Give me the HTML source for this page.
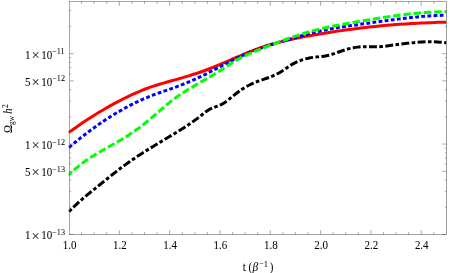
<!DOCTYPE html>
<html><head><meta charset="utf-8"><title>plot</title>
<style>
html,body{margin:0;padding:0;background:#fff;}
body{width:450px;height:273px;overflow:hidden;}
svg{display:block;will-change:transform;}
text{font-family:"Liberation Serif",serif;fill:#000;stroke:#000;stroke-width:0.03px;}
</style></head><body>
<svg width="450" height="273" viewBox="0 0 450 273">
<rect width="450" height="273" fill="#fff"/>
<defs><clipPath id="c"><rect x="68.50" y="1.50" width="378.00" height="233.00"/></clipPath></defs>
<g clip-path="url(#c)" fill="none" stroke-width="3" stroke-linejoin="round">
<path d="M68.50 132.64C69.67 131.82 73.33 129.21 75.50 127.70C77.67 126.19 79.50 124.93 81.50 123.58C83.50 122.23 85.50 120.91 87.50 119.60C89.50 118.30 91.50 117.01 93.50 115.76C95.50 114.50 97.50 113.26 99.50 112.05C101.50 110.84 103.50 109.65 105.50 108.49C107.50 107.33 109.50 106.20 111.50 105.09C113.50 103.98 115.50 102.89 117.50 101.83C119.50 100.78 121.50 99.75 123.50 98.74C125.50 97.74 127.50 96.77 129.50 95.82C131.50 94.88 133.50 93.97 135.50 93.09C137.50 92.21 139.50 91.36 141.50 90.55C143.50 89.74 145.50 88.96 147.50 88.23C149.50 87.49 151.50 86.80 153.50 86.13C155.50 85.47 157.50 84.84 159.50 84.23C161.50 83.62 163.50 83.05 165.50 82.47C167.50 81.90 169.50 81.34 171.50 80.78C173.50 80.22 175.50 79.68 177.50 79.11C179.50 78.55 181.50 78.00 183.50 77.42C185.50 76.84 187.50 76.26 189.50 75.65C191.50 75.04 193.50 74.42 195.50 73.76C197.50 73.11 199.50 72.43 201.50 71.72C203.50 71.01 205.50 70.26 207.50 69.50C209.50 68.73 211.50 67.94 213.50 67.13C215.50 66.32 217.50 65.49 219.50 64.65C221.50 63.81 223.50 62.95 225.50 62.09C227.50 61.23 229.50 60.36 231.50 59.49C233.50 58.63 235.50 57.76 237.50 56.90C239.50 56.05 241.50 55.19 243.50 54.36C245.50 53.53 247.50 52.70 249.50 51.91C251.50 51.11 253.50 50.33 255.50 49.58C257.50 48.84 259.50 48.12 261.50 47.44C263.50 46.75 265.50 46.10 267.50 45.48C269.50 44.86 271.50 44.27 273.50 43.71C275.50 43.14 277.50 42.61 279.50 42.09C281.50 41.58 283.50 41.09 285.50 40.62C287.50 40.15 289.50 39.70 291.50 39.27C293.50 38.84 295.50 38.42 297.50 38.02C299.50 37.62 301.50 37.23 303.50 36.85C305.50 36.47 307.50 36.11 309.50 35.74C311.50 35.38 313.50 35.03 315.50 34.68C317.50 34.34 319.50 34.00 321.50 33.67C323.50 33.33 325.50 33.01 327.50 32.69C329.50 32.37 331.50 32.06 333.50 31.75C335.50 31.45 337.50 31.15 339.50 30.86C341.50 30.57 343.50 30.29 345.50 30.01C347.50 29.74 349.50 29.47 351.50 29.21C353.50 28.94 355.50 28.69 357.50 28.44C359.50 28.20 361.50 27.96 363.50 27.72C365.50 27.49 367.50 27.27 369.50 27.05C371.50 26.83 373.50 26.62 375.50 26.42C377.50 26.21 379.50 26.02 381.50 25.83C383.50 25.64 385.50 25.46 387.50 25.28C389.50 25.11 391.50 24.94 393.50 24.78C395.50 24.62 397.50 24.47 399.50 24.32C401.50 24.17 403.50 24.03 405.50 23.90C407.50 23.77 409.50 23.64 411.50 23.52C413.50 23.41 415.50 23.29 417.50 23.19C419.50 23.08 421.50 22.99 423.50 22.89C425.50 22.80 427.50 22.72 429.50 22.64C431.50 22.56 433.50 22.49 435.50 22.43C437.50 22.36 439.67 22.30 441.50 22.26C443.33 22.21 445.67 22.16 446.50 22.14" stroke="#ff0000"/>
<path d="M68.50 147.89C69.67 146.91 73.33 143.81 75.50 142.03C77.67 140.25 79.50 138.78 81.50 137.21C83.50 135.63 85.50 134.08 87.50 132.57C89.50 131.06 91.50 129.58 93.50 128.13C95.50 126.69 97.50 125.27 99.50 123.89C101.50 122.51 103.50 121.16 105.50 119.85C107.50 118.53 109.50 117.25 111.50 116.00C113.50 114.75 115.50 113.54 117.50 112.36C119.50 111.18 121.50 110.03 123.50 108.91C125.50 107.80 127.50 106.72 129.50 105.68C131.50 104.64 133.50 103.63 135.50 102.66C137.50 101.69 139.50 100.75 141.50 99.86C143.50 98.96 145.50 98.10 147.50 97.28C149.50 96.46 151.50 95.69 153.50 94.94C155.50 94.19 157.50 93.48 159.50 92.77C161.50 92.06 163.50 91.38 165.50 90.69C167.50 89.99 169.50 89.31 171.50 88.59C173.50 87.88 175.50 87.16 177.50 86.41C179.50 85.67 181.50 84.90 183.50 84.11C185.50 83.32 187.50 82.51 189.50 81.67C191.50 80.83 193.50 79.96 195.50 79.05C197.50 78.15 199.50 77.21 201.50 76.24C203.50 75.27 205.50 74.26 207.50 73.24C209.50 72.22 211.50 71.16 213.50 70.12C215.50 69.07 217.50 68.01 219.50 66.97C221.50 65.92 223.50 64.88 225.50 63.85C227.50 62.83 229.50 61.81 231.50 60.82C233.50 59.82 235.50 58.84 237.50 57.89C239.50 56.94 241.50 56.00 243.50 55.10C245.50 54.20 247.50 53.31 249.50 52.47C251.50 51.63 253.50 50.81 255.50 50.03C257.50 49.26 259.50 48.52 261.50 47.81C263.50 47.11 265.50 46.45 267.50 45.81C269.50 45.17 271.50 44.56 273.50 43.97C275.50 43.37 277.50 42.80 279.50 42.22C281.50 41.64 283.50 41.08 285.50 40.50C287.50 39.93 289.50 39.35 291.50 38.76C293.50 38.17 295.50 37.56 297.50 36.97C299.50 36.37 301.50 35.77 303.50 35.19C305.50 34.62 307.50 34.05 309.50 33.52C311.50 32.99 313.50 32.48 315.50 32.01C317.50 31.53 319.50 31.09 321.50 30.66C323.50 30.24 325.50 29.84 327.50 29.46C329.50 29.08 331.50 28.72 333.50 28.37C335.50 28.02 337.50 27.70 339.50 27.38C341.50 27.06 343.50 26.75 345.50 26.45C347.50 26.15 349.50 25.86 351.50 25.57C353.50 25.28 355.50 25.00 357.50 24.71C359.50 24.43 361.50 24.14 363.50 23.85C365.50 23.57 367.50 23.28 369.50 22.99C371.50 22.70 373.50 22.41 375.50 22.13C377.50 21.84 379.50 21.56 381.50 21.28C383.50 20.99 385.50 20.72 387.50 20.44C389.50 20.17 391.50 19.90 393.50 19.64C395.50 19.38 397.50 19.13 399.50 18.88C401.50 18.63 403.50 18.39 405.50 18.16C407.50 17.93 409.50 17.71 411.50 17.50C413.50 17.29 415.50 17.09 417.50 16.90C419.50 16.72 421.50 16.54 423.50 16.38C425.50 16.22 427.50 16.07 429.50 15.94C431.50 15.81 433.50 15.69 435.50 15.59C437.50 15.49 439.67 15.40 441.50 15.34C443.33 15.27 445.67 15.23 446.50 15.21" stroke="#0000ff" stroke-dasharray="3.8 2.35" stroke-dashoffset="-0.6"/>
<path d="M68.50 175.14C69.67 174.07 73.33 170.58 75.50 168.70C77.67 166.82 79.50 165.37 81.50 163.85C83.50 162.32 85.50 160.90 87.50 159.54C89.50 158.17 91.50 156.90 93.50 155.65C95.50 154.40 97.50 153.23 99.50 152.06C101.50 150.89 103.50 149.78 105.50 148.65C107.50 147.52 109.50 146.42 111.50 145.29C113.50 144.16 115.50 143.04 117.50 141.87C119.50 140.70 121.50 139.52 123.50 138.28C125.50 137.04 127.50 135.76 129.50 134.44C131.50 133.12 133.50 131.75 135.50 130.34C137.50 128.92 139.50 127.46 141.50 125.94C143.50 124.43 145.50 122.86 147.50 121.24C149.50 119.61 151.50 117.91 153.50 116.20C155.50 114.49 157.50 112.71 159.50 110.97C161.50 109.24 163.50 107.47 165.50 105.79C167.50 104.11 169.50 102.46 171.50 100.91C173.50 99.36 175.50 97.90 177.50 96.48C179.50 95.07 181.50 93.73 183.50 92.43C185.50 91.13 187.50 89.89 189.50 88.67C191.50 87.45 193.50 86.28 195.50 85.11C197.50 83.94 199.50 82.81 201.50 81.66C203.50 80.52 205.50 79.39 207.50 78.24C209.50 77.09 211.50 75.94 213.50 74.75C215.50 73.55 217.50 72.35 219.50 71.09C221.50 69.84 223.50 68.53 225.50 67.24C227.50 65.95 229.50 64.61 231.50 63.35C233.50 62.09 235.50 60.82 237.50 59.67C239.50 58.51 241.50 57.43 243.50 56.42C245.50 55.41 247.50 54.50 249.50 53.61C251.50 52.72 253.50 51.91 255.50 51.09C257.50 50.28 259.50 49.50 261.50 48.71C263.50 47.92 265.50 47.13 267.50 46.35C269.50 45.57 271.50 44.79 273.50 44.02C275.50 43.25 277.50 42.48 279.50 41.74C281.50 40.99 283.50 40.24 285.50 39.52C287.50 38.80 289.50 38.08 291.50 37.39C293.50 36.70 295.50 36.02 297.50 35.36C299.50 34.71 301.50 34.07 303.50 33.46C305.50 32.85 307.50 32.25 309.50 31.69C311.50 31.13 313.50 30.59 315.50 30.08C317.50 29.56 319.50 29.07 321.50 28.60C323.50 28.13 325.50 27.69 327.50 27.25C329.50 26.82 331.50 26.41 333.50 26.01C335.50 25.61 337.50 25.23 339.50 24.85C341.50 24.47 343.50 24.11 345.50 23.76C347.50 23.40 349.50 23.06 351.50 22.71C353.50 22.37 355.50 22.04 357.50 21.70C359.50 21.37 361.50 21.03 363.50 20.70C365.50 20.37 367.50 20.04 369.50 19.71C371.50 19.38 373.50 19.05 375.50 18.73C377.50 18.41 379.50 18.09 381.50 17.78C383.50 17.48 385.50 17.17 387.50 16.87C389.50 16.58 391.50 16.29 393.50 16.01C395.50 15.73 397.50 15.45 399.50 15.19C401.50 14.93 403.50 14.68 405.50 14.44C407.50 14.20 409.50 13.97 411.50 13.76C413.50 13.55 415.50 13.35 417.50 13.16C419.50 12.98 421.50 12.80 423.50 12.65C425.50 12.50 427.50 12.36 429.50 12.24C431.50 12.12 433.50 12.02 435.50 11.93C437.50 11.85 439.67 11.79 441.50 11.75C443.33 11.70 445.67 11.70 446.50 11.69" stroke="#00ff00" stroke-dasharray="7.4 2.9" stroke-dashoffset="3.0"/>
<path d="M68.50 212.14C69.33 211.31 72.00 208.61 73.50 207.15C75.00 205.69 76.17 204.61 77.50 203.39C78.83 202.16 80.17 200.98 81.50 199.81C82.83 198.64 84.17 197.50 85.50 196.38C86.83 195.25 88.17 194.16 89.50 193.06C90.83 191.97 92.17 190.89 93.50 189.82C94.83 188.74 96.17 187.67 97.50 186.60C98.83 185.53 100.17 184.46 101.50 183.39C102.83 182.31 104.17 181.23 105.50 180.15C106.83 179.08 108.17 178.00 109.50 176.93C110.83 175.86 112.17 174.79 113.50 173.74C114.83 172.69 116.17 171.64 117.50 170.61C118.83 169.58 120.17 168.57 121.50 167.57C122.83 166.57 124.17 165.60 125.50 164.63C126.83 163.67 128.17 162.72 129.50 161.79C130.83 160.85 132.17 159.93 133.50 159.02C134.83 158.12 136.17 157.22 137.50 156.34C138.83 155.46 140.17 154.58 141.50 153.72C142.83 152.86 144.17 152.01 145.50 151.16C146.83 150.32 148.17 149.48 149.50 148.66C150.83 147.83 152.17 147.01 153.50 146.19C154.83 145.37 156.17 144.56 157.50 143.76C158.83 142.95 160.17 142.15 161.50 141.35C162.83 140.55 164.17 139.75 165.50 138.96C166.83 138.16 168.17 137.37 169.50 136.57C170.83 135.78 172.17 134.98 173.50 134.18C174.83 133.38 176.17 132.58 177.50 131.77C178.83 130.96 180.17 130.14 181.50 129.30C182.83 128.47 184.17 127.62 185.50 126.75C186.83 125.89 188.17 125.01 189.50 124.10C190.83 123.19 192.17 122.26 193.50 121.31C194.83 120.35 196.17 119.37 197.50 118.35C198.83 117.34 200.17 116.26 201.50 115.21C202.83 114.17 204.17 113.04 205.50 112.08C206.83 111.11 208.17 110.16 209.50 109.42C210.83 108.67 212.17 108.15 213.50 107.60C214.83 107.06 216.17 106.71 217.50 106.17C218.83 105.64 220.17 105.10 221.50 104.38C222.83 103.67 224.17 102.80 225.50 101.89C226.83 100.98 228.17 99.94 229.50 98.91C230.83 97.88 232.17 96.76 233.50 95.70C234.83 94.63 236.17 93.53 237.50 92.51C238.83 91.50 240.17 90.51 241.50 89.61C242.83 88.71 244.17 87.89 245.50 87.11C246.83 86.34 248.17 85.64 249.50 84.98C250.83 84.31 252.17 83.71 253.50 83.13C254.83 82.56 256.17 82.03 257.50 81.52C258.83 81.01 260.17 80.54 261.50 80.07C262.83 79.60 264.17 79.16 265.50 78.69C266.83 78.22 268.17 77.77 269.50 77.27C270.83 76.76 272.17 76.25 273.50 75.66C274.83 75.08 276.17 74.46 277.50 73.76C278.83 73.05 280.17 72.26 281.50 71.42C282.83 70.59 284.17 69.63 285.50 68.74C286.83 67.84 288.17 66.89 289.50 66.05C290.83 65.20 292.17 64.40 293.50 63.68C294.83 62.95 296.17 62.30 297.50 61.70C298.83 61.10 300.17 60.57 301.50 60.10C302.83 59.62 304.17 59.21 305.50 58.85C306.83 58.49 308.17 58.19 309.50 57.93C310.83 57.67 312.17 57.49 313.50 57.31C314.83 57.14 316.17 57.02 317.50 56.87C318.83 56.73 320.17 56.62 321.50 56.46C322.83 56.30 324.17 56.15 325.50 55.92C326.83 55.69 328.17 55.44 329.50 55.10C330.83 54.77 332.17 54.34 333.50 53.90C334.83 53.46 336.17 52.94 337.50 52.46C338.83 51.98 340.17 51.47 341.50 51.02C342.83 50.56 344.17 50.13 345.50 49.73C346.83 49.33 348.17 48.96 349.50 48.63C350.83 48.30 352.17 48.00 353.50 47.75C354.83 47.50 356.17 47.29 357.50 47.12C358.83 46.96 360.17 46.86 361.50 46.78C362.83 46.71 364.17 46.70 365.50 46.70C366.83 46.69 368.17 46.73 369.50 46.76C370.83 46.78 372.17 46.83 373.50 46.84C374.83 46.85 376.17 46.87 377.50 46.83C378.83 46.79 380.17 46.72 381.50 46.61C382.83 46.50 384.17 46.33 385.50 46.16C386.83 45.99 388.17 45.79 389.50 45.60C390.83 45.42 392.17 45.22 393.50 45.04C394.83 44.86 396.17 44.68 397.50 44.51C398.83 44.34 400.17 44.17 401.50 44.00C402.83 43.84 404.17 43.68 405.50 43.53C406.83 43.38 408.17 43.23 409.50 43.10C410.83 42.96 412.17 42.82 413.50 42.69C414.83 42.57 416.17 42.45 417.50 42.34C418.83 42.24 420.17 42.14 421.50 42.06C422.83 41.98 424.17 41.91 425.50 41.86C426.83 41.81 428.17 41.77 429.50 41.76C430.83 41.75 432.17 41.75 433.50 41.78C434.83 41.80 436.17 41.85 437.50 41.93C438.83 42.00 440.00 42.07 441.50 42.23C443.00 42.38 445.67 42.74 446.50 42.84" stroke="#000000" stroke-dasharray="3.6 2.4 7.9 2.4" stroke-dashoffset="-0.8"/>
</g>
<g stroke="#505050" stroke-width="0.5" fill="none">
<rect x="69.50" y="1.50" width="377.00" height="233.00"/>
<path d="M81.58 234.50 v-2.40 M81.58 1.50 v2.40M94.16 234.50 v-2.40 M94.16 1.50 v2.40M106.74 234.50 v-2.40 M106.74 1.50 v2.40M119.32 234.50 v-4.20 M119.32 1.50 v4.20M131.90 234.50 v-2.40 M131.90 1.50 v2.40M144.48 234.50 v-2.40 M144.48 1.50 v2.40M157.06 234.50 v-2.40 M157.06 1.50 v2.40M169.64 234.50 v-4.20 M169.64 1.50 v4.20M182.22 234.50 v-2.40 M182.22 1.50 v2.40M194.80 234.50 v-2.40 M194.80 1.50 v2.40M207.38 234.50 v-2.40 M207.38 1.50 v2.40M219.96 234.50 v-4.20 M219.96 1.50 v4.20M232.54 234.50 v-2.40 M232.54 1.50 v2.40M245.12 234.50 v-2.40 M245.12 1.50 v2.40M257.70 234.50 v-2.40 M257.70 1.50 v2.40M270.28 234.50 v-4.20 M270.28 1.50 v4.20M282.86 234.50 v-2.40 M282.86 1.50 v2.40M295.44 234.50 v-2.40 M295.44 1.50 v2.40M308.02 234.50 v-2.40 M308.02 1.50 v2.40M320.60 234.50 v-4.20 M320.60 1.50 v4.20M333.18 234.50 v-2.40 M333.18 1.50 v2.40M345.76 234.50 v-2.40 M345.76 1.50 v2.40M358.34 234.50 v-2.40 M358.34 1.50 v2.40M370.92 234.50 v-4.20 M370.92 1.50 v4.20M383.50 234.50 v-2.40 M383.50 1.50 v2.40M396.08 234.50 v-2.40 M396.08 1.50 v2.40M408.66 234.50 v-2.40 M408.66 1.50 v2.40M421.24 234.50 v-4.20 M421.24 1.50 v4.20M433.82 234.50 v-2.40 M433.82 1.50 v2.40M69.50 234.50 h4.20 M446.50 234.50 h-4.20M69.50 207.28 h1.60 M446.50 207.28 h-1.60M69.50 191.36 h1.60 M446.50 191.36 h-1.60M69.50 180.07 h1.60 M446.50 180.07 h-1.60M69.50 171.31 h4.20 M446.50 171.31 h-4.20M69.50 164.15 h1.60 M446.50 164.15 h-1.60M69.50 158.09 h1.60 M446.50 158.09 h-1.60M69.50 152.85 h1.60 M446.50 152.85 h-1.60M69.50 148.23 h1.60 M446.50 148.23 h-1.60M69.50 144.09 h4.20 M446.50 144.09 h-4.20M69.50 116.87 h1.60 M446.50 116.87 h-1.60M69.50 100.95 h1.60 M446.50 100.95 h-1.60M69.50 89.66 h1.60 M446.50 89.66 h-1.60M69.50 80.90 h4.20 M446.50 80.90 h-4.20M69.50 73.74 h1.60 M446.50 73.74 h-1.60M69.50 67.68 h1.60 M446.50 67.68 h-1.60M69.50 62.44 h1.60 M446.50 62.44 h-1.60M69.50 57.82 h1.60 M446.50 57.82 h-1.60M69.50 53.68 h4.20 M446.50 53.68 h-4.20M69.50 26.46 h1.60 M446.50 26.46 h-1.60M69.50 10.54 h1.60 M446.50 10.54 h-1.60"/>
<path d="M446.50 1.50 V234.50" stroke-width="0.12"/>
</g>
<text transform="translate(69.50 248.7) scale(1 1.12)" x="0" y="0" font-size="11" text-anchor="middle">1.0</text>
<text transform="translate(119.82 248.7) scale(1 1.12)" x="0" y="0" font-size="11" text-anchor="middle">1.2</text>
<text transform="translate(170.14 248.7) scale(1 1.12)" x="0" y="0" font-size="11" text-anchor="middle">1.4</text>
<text transform="translate(220.46 248.7) scale(1 1.12)" x="0" y="0" font-size="11" text-anchor="middle">1.6</text>
<text transform="translate(270.78 248.7) scale(1 1.12)" x="0" y="0" font-size="11" text-anchor="middle">1.8</text>
<text transform="translate(321.10 248.7) scale(1 1.12)" x="0" y="0" font-size="11" text-anchor="middle">2.0</text>
<text transform="translate(371.42 248.7) scale(1 1.12)" x="0" y="0" font-size="11" text-anchor="middle">2.2</text>
<text transform="translate(421.74 248.7) scale(1 1.12)" x="0" y="0" font-size="11" text-anchor="middle">2.4</text>
<g transform="translate(0 239.40) scale(1 1.070)"><text x="25" y="0" font-size="11">1</text><text x="31.6" y="1.03" font-size="14.5" style="stroke-width:0">×</text><text x="41.2" y="0" font-size="11">10</text><text x="52.2" y="-4.11" font-size="8.2">−13</text></g>
<g transform="translate(0 176.21) scale(1 1.070)"><text x="25" y="0" font-size="11">5</text><text x="31.6" y="1.03" font-size="14.5" style="stroke-width:0">×</text><text x="41.2" y="0" font-size="11">10</text><text x="52.2" y="-4.11" font-size="8.2">−13</text></g>
<g transform="translate(0 148.99) scale(1 1.070)"><text x="25" y="0" font-size="11">1</text><text x="31.6" y="1.03" font-size="14.5" style="stroke-width:0">×</text><text x="41.2" y="0" font-size="11">10</text><text x="52.2" y="-4.11" font-size="8.2">−12</text></g>
<g transform="translate(0 85.80) scale(1 1.070)"><text x="25" y="0" font-size="11">5</text><text x="31.6" y="1.03" font-size="14.5" style="stroke-width:0">×</text><text x="41.2" y="0" font-size="11">10</text><text x="52.2" y="-4.11" font-size="8.2">−12</text></g>
<g transform="translate(0 58.58) scale(1 1.070)"><text x="25" y="0" font-size="11">1</text><text x="31.6" y="1.03" font-size="14.5" style="stroke-width:0">×</text><text x="41.2" y="0" font-size="11">10</text><text x="52.2" y="-4.11" font-size="8.2">−11</text></g>
<g transform="translate(0 270.8) scale(1 1.07)"><text x="242.8" y="0" font-size="11">t</text><text x="248.5" y="0" font-size="11">(</text><text x="252.4" y="0" font-size="11.5" font-style="italic">β</text><text x="259.6" y="-4.3" font-size="7.6">−</text><text x="263.8" y="-3.6" font-size="8.6">1</text><text x="269.7" y="0" font-size="11">)</text></g>
<g transform="translate(11.9 133) rotate(-90) scale(1 1.1)"><text x="0" y="0" font-size="10.8">Ω</text><text x="8.1" y="2.3" font-size="7.3">gw</text><text x="19.3" y="0" font-size="10.8" font-style="italic">h</text><text x="24.9" y="-3.9" font-size="7.6">2</text></g>
</svg>
</body></html>
